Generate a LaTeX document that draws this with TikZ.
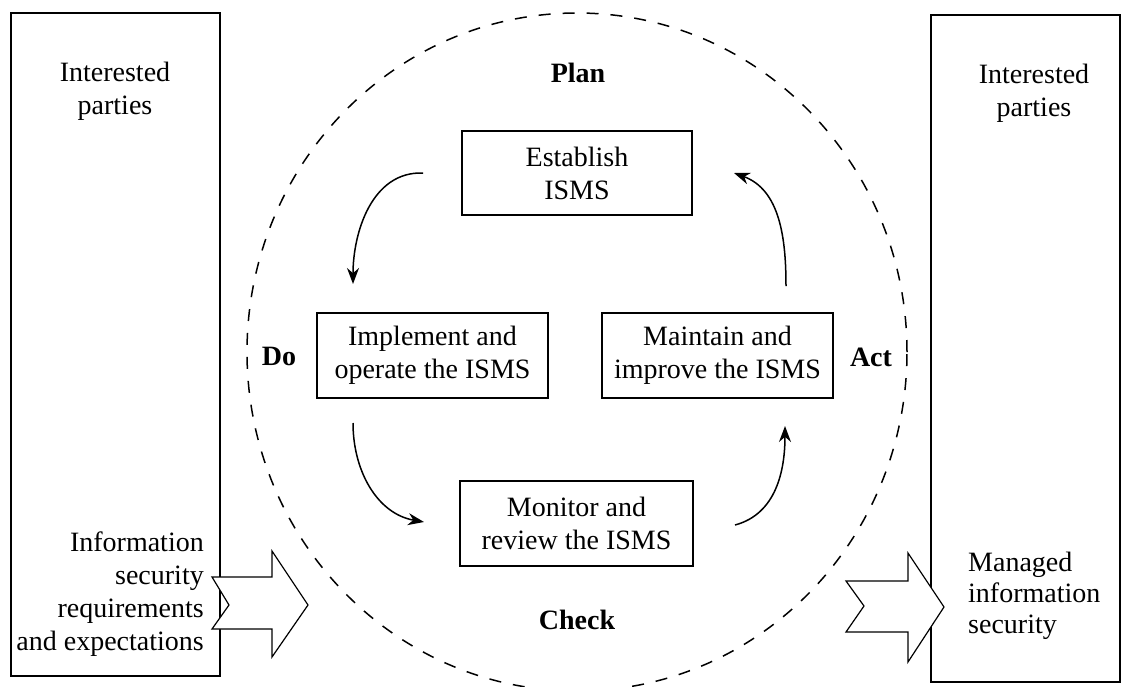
\documentclass[tikz,border=0pt]{standalone}
\usepackage{fontspec}
\setmainfont{Liberation Serif}
\usetikzlibrary{arrows.meta}
\begin{document}
\begin{tikzpicture}[x=1pt,y=-1pt,
  stepbox/.style={draw,line width=1.5pt,minimum width=231pt,minimum height=85pt,inner sep=0pt,align=center,font=\fontsize{28}{33}\selectfont},
  txt/.style={inner sep=0pt,font=\fontsize{28}{33}\selectfont},
  phase/.style={inner sep=0pt,font=\fontsize{28}{33}\selectfont\bfseries},
  party/.style={draw,line width=1.6pt,inner sep=0pt,anchor=north west},
  cyc/.style={line width=1.5pt,-{Stealth[length=16pt,width=12pt]}},
  bigarrow/.style={draw,fill=white,line width=1.2pt,line join=miter},
  cycle line/.style={dash pattern=on 12pt off 12pt,line width=1.5pt}]
\useasboundingbox (0,0) rectangle (1128,686);

% outer boxes
\node[party,minimum width=209pt,minimum height=663pt] (lbox) at (10,12) {};
\node[party,minimum width=189pt,minimum height=667pt] (rbox) at (930,14) {};

% dashed cycle
\draw[cycle line] (577,352) ellipse [x radius=330pt, y radius=339pt];

% texts in outer boxes
\node[txt,align=center] (lip) at (115,91) {Interested\\parties};
\node[txt,align=center] (rip) at (1034,93) {Interested\\parties};
\node[txt,align=right,anchor=east] (req) at (204,594) {Information\\security\\requirements\\and expectations};
\node[txt,align=left,anchor=west,font=\fontsize{28}{31}\selectfont] (mis) at (968,596) {Managed\\information\\security};

% block arrows
\draw[bigarrow] (212,577) -- (229,605) -- (212,629) -- (272,629) -- (272,657) -- (308,605) -- (272,551) -- (272,577) -- cycle;
\draw[bigarrow] (846,581) -- (864,606) -- (846,632) -- (908,632) -- (908,662) -- (944,607) -- (908,553) -- (908,581) -- cycle;

% phase labels
\node[phase] (plan) at (578,73) {Plan};
\node[phase] (check) at (577,620) {Check};
\node[phase] (do) at (279,356) {Do};
\node[phase] (act) at (871,357) {Act};

% process boxes
\node[stepbox,minimum width=230pt,minimum height=84pt] (est) at (577,173) {Establish\\ISMS};
\node[stepbox] (impl) at (432.5,355.5) {Implement and\\operate the ISMS};
\node[stepbox] (maint) at (717.5,355.5) {Maintain and\\improve the ISMS};
\node[stepbox,minimum width=233pt] (mon) at (576.5,523.5) {Monitor and\\review the ISMS};

% cycle arrow ends
\coordinate (a1) at (423,173);
\coordinate (a2) at (353,284);
\coordinate (b1) at (786,286);
\coordinate (b2) at (734,173);
\coordinate (c1) at (353,423);
\coordinate (c2) at (424,522);
\coordinate (d1) at (735,525);
\coordinate (d2) at (785,426);

\draw[cyc] (a1) to[out=178,in=90] (a2);
\draw[cyc] (b1) to[out=90,in=-20] (b2);
\draw[cyc] (c1) to[out=-90,in=170] (c2);
\draw[cyc] (d1) to[out=15,in=-90] (d2);
\end{tikzpicture}
\end{document}
